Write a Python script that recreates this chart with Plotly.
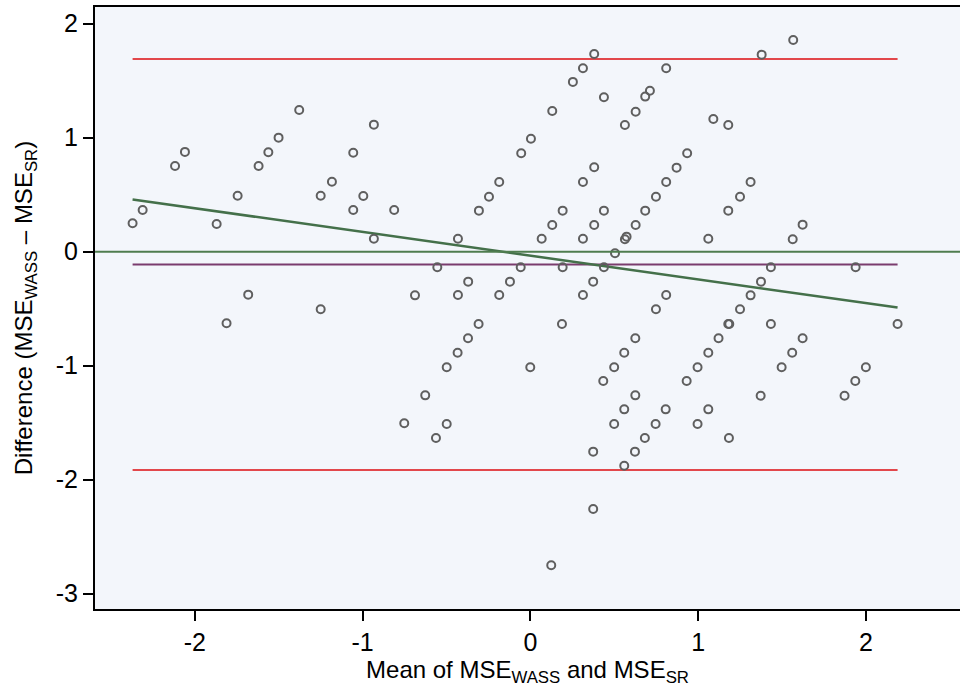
import plotly.graph_objects as go

# Bland-Altman data: mean of the two MSE values (x) and their difference (y)
mean_vals = [
    -2.371, -2.311, -2.118, -2.059, -1.870, -1.745, -1.682, -1.620, -1.562, -1.501,
    -1.378, -1.250, -1.250, -1.183, -1.056, -1.056, -0.996, -0.933, -0.933, -0.812,
    -0.688, -1.811, -0.752,
    0.380, 0.313, 0.253, 0.130, 0.003, -0.055, -0.186, -0.247, -0.307, -0.432,
    -0.555, -0.432, -0.371, -0.186, -0.122, -0.058, 0.067, 0.130, 0.192, 0.192,
    0.313, 0.313, 0.380, 0.380, 0.438, 0.438, 0.374, 0.313, 0.438, 0.504,
    0.563, 0.573, 0.627, 0.684, 0.748, 0.809, 0.871, 0.934, 0.563, 0.627,
    0.684, 0.712, 0.809, 1.090, 1.179, 1.060, 1.179, 0.748, 0.809,
    1.566, 1.378, 1.312, 1.249, 1.563, 1.622, 1.433, 1.938, 1.374, 1.312, 1.249,
    1.185, 1.433, 2.188, 1.121, 1.622, 1.060, 1.560, 1.497, 1.999, 1.936, 1.872,
    1.372, 1.060, 1.183,
    -0.309, -0.372, -0.434, -0.499, -0.627, -0.499, -0.563, 0.188, -0.001,
    0.374, 0.374, 0.124, 0.625, 0.559, 0.499, 0.434, 0.625, 0.559, 0.499,
    0.806, 0.746, 0.682, 0.623, 0.559, 1.179, 0.996, 0.931, 0.996,
]
diff_vals = [
    0.249, 0.366, 0.752, 0.875, 0.243, 0.491, -0.377, 0.752, 0.872, 1.000,
    1.243, 0.491, -0.505, 0.614, 0.868, 0.366, 0.489, 1.114, 0.114, 0.366,
    -0.383, -0.628, -1.505,
    1.734, 1.609, 1.489, 1.234, 0.991, 0.863, 0.611, 0.482, 0.360, 0.114,
    -0.137, -0.380, -0.263, -0.380, -0.263, -0.137, 0.114, 0.234, 0.360, -0.137,
    0.114, 0.611, 0.740, 0.234, 0.360, -0.137, -0.263, -0.380, 1.354, -0.014,
    0.109, 0.132, 0.234, 0.360, 0.482, 0.611, 0.737, 0.863, 1.111, 1.228,
    1.360, 1.412, 1.609, 1.164, 1.111, 0.114, 0.360, -0.505, -0.380,
    1.857, 1.728, 0.611, 0.482, 0.109, 0.237, -0.137, -0.137, -0.263, -0.383, -0.505,
    -0.634, -0.634, -0.634, -0.760, -0.760, -0.886, -0.886, -1.014, -1.014, -1.134, -1.263,
    -1.263, -1.383, -1.634,
    -0.634, -0.760, -0.886, -1.014, -1.260, -1.511, -1.634, -0.634, -1.014,
    -1.754, -2.257, -2.751, -0.760, -0.886, -1.014, -1.134, -1.260, -1.383, -1.511,
    -1.383, -1.511, -1.634, -1.754, -1.877, -0.634, -1.014, -1.134, -1.511,
]

# Summary statistics
mean_diff = -0.112
upper_loa = 1.690
lower_loa = -1.915
reg_intercept = -0.035
reg_slope = -0.208

x_tick_vals = [-2, -1, 0, 1, 2]
y_tick_vals = [-3, -2, -1, 0, 1, 2]

x_min, x_max = min(mean_vals), max(mean_vals)
x_ends = [x_min, x_max]

FONT = "Liberation Sans, Arial, sans-serif"

fig = go.Figure()

# zero reference line (full width)
fig.add_hline(y=0, line=dict(color="#4f7d4f", width=2))

# limits of agreement
fig.add_trace(go.Scatter(x=x_ends, y=[upper_loa, upper_loa], mode="lines",
                         line=dict(color="#e2474b", width=2), hoverinfo="skip"))
fig.add_trace(go.Scatter(x=x_ends, y=[lower_loa, lower_loa], mode="lines",
                         line=dict(color="#e2474b", width=2), hoverinfo="skip"))
# mean difference
fig.add_trace(go.Scatter(x=x_ends, y=[mean_diff, mean_diff], mode="lines",
                         line=dict(color="#7a3c6e", width=2), hoverinfo="skip"))
# regression line
reg_y = [reg_intercept + reg_slope * v for v in x_ends]
fig.add_trace(go.Scatter(x=x_ends, y=reg_y, mode="lines",
                         line=dict(color="#44704a", width=2.5), hoverinfo="skip"))

# points
fig.add_trace(go.Scatter(x=mean_vals, y=diff_vals, mode="markers",
                         marker=dict(symbol="circle-open", size=8, color="#5f5f5f",
                                     line=dict(width=2, color="#5f5f5f"))))

fig.update_layout(
    width=960, height=692,
    margin=dict(l=95, r=0, t=7, b=83, autoexpand=False),
    paper_bgcolor="white",
    plot_bgcolor="#f3f6fb",
    showlegend=False,
    font=dict(family=FONT, color="black", size=24),
)
fig.update_xaxes(
    range=[-2.595, 2.56], tickvals=x_tick_vals, ticktext=[f"{v}" for v in x_tick_vals],
    showgrid=False, zeroline=False, showline=True, linecolor="black", linewidth=2,
    mirror=True, ticks="outside", ticklen=10, tickwidth=2, tickcolor="black",
    tickfont=dict(size=25, family=FONT), automargin=False,
    title=dict(text="Mean of MSE<sub>WASS</sub> and MSE<sub>SR</sub>",
               font=dict(size=24, family=FONT), standoff=2),
)
fig.update_yaxes(
    range=[-3.134, 2.146], tickvals=y_tick_vals, ticktext=[f"{v}" for v in y_tick_vals],
    showgrid=False, zeroline=False, showline=True, linecolor="black", linewidth=2,
    ticks="outside", ticklen=10, tickwidth=2, tickcolor="black",
    tickfont=dict(size=25, family=FONT), automargin=False,
    title=dict(text="Difference (MSE<sub>WASS</sub> \u2013 MSE<sub>SR</sub>)",
               font=dict(size=24, family=FONT), standoff=16),
)

fig.write_html("out.html", config={"displayModeBar": False},
               post_script="document.body.style.margin='0';")
